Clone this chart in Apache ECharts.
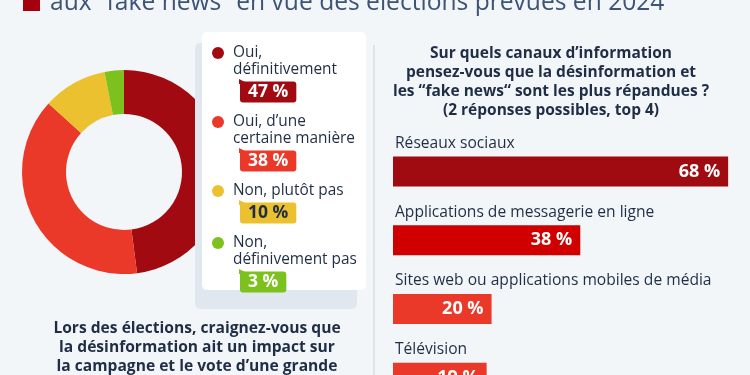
<!DOCTYPE html>
<html>
<head>
<meta charset="utf-8">
<script src="https://cdn.jsdelivr.net/npm/echarts@6/dist/echarts.min.js"></script>
<style>
  html, body { margin: 0; padding: 0; background: #f3f6f9; }
  #chart { width: 750px; height: 375px; }
</style>
</head>
<body>
<div id="chart"></div>
<script>
// donut: crainte d'un impact de la désinformation
const donutLines = [['Oui,', 'définitivement'], ['Oui, d’une', 'certaine manière'], ['Non, plutôt pas'], ['Non,', 'définivement pas']]
const donutValues = [47, 38, 10, 3]
const donutColors = ['#a20a12', '#ea3829', '#ebc12f', '#7cc11e']
const badgeTextColors = ['#fff', '#fff', '#1f2d45', '#fff']

// barres: canaux d'information
const channels = ['Réseaux sociaux', 'Applications de messagerie en ligne', 'Sites web ou applications mobiles de média', 'Télévision']
const channelValues = [68, 38, 20, 19]
const barColors = ['#a00b12', '#d00000', '#ea3829', '#ea3829']

const FONT = 'Open Sans'
const NAVY = '#1f2d45'

const chart = echarts.init(document.getElementById('chart'))

// legend box built from the donut arrays
const legendEls = []
legendEls.push({ type: 'rect', z: 100, shape: { x: 195, y: 43, width: 162, height: 266, r: 5 }, style: { fill: '#e0e7ee' } })
legendEls.push({ type: 'rect', z: 101, shape: { x: 202, y: 32, width: 164, height: 258, r: 5 }, style: { fill: '#fff' } })
let y = 53
donutLines.forEach((lines, i) => {
  legendEls.push({ type: 'circle', z: 102, shape: { cx: 218, cy: y, r: 6 }, style: { fill: donutColors[i] } })
  lines.forEach((t, j) => {
    legendEls.push({
      type: 'text', z: 102, x: 233, y: y + j * 17,
      style: { text: t, font: '15.4px "' + FONT + '"', fill: NAVY, verticalAlign: 'middle' }
    })
  })
  const last = y + (lines.length - 1) * 17
  const by = last + 22
  legendEls.push({
    type: 'polygon', z: 102,
    shape: { points: [[239, by - 13], [239, by - 8], [249, by - 8]] },
    style: { fill: donutColors[i] }
  })
  legendEls.push({
    type: 'text', z: 103, x: 240, y: by,
    style: {
      text: donutValues[i] + ' %', font: 'bold 17.5px "' + FONT + '"', fill: badgeTextColors[i],
      verticalAlign: 'middle', backgroundColor: donutColors[i], padding: [0, 8, 0, 8],
      lineHeight: 21, borderRadius: 3
    }
  })
  y = last + 52
})

chart.setOption({
  backgroundColor: '#f3f6f9',
  animation: false,
  grid: { left: 393, top: 137, width: 345, height: 275, outerBoundsMode: 'none', containLabel: false },
  xAxis: { type: 'value', min: 0, max: 70, show: false },
  yAxis: {
    type: 'category',
    inverse: true,
    data: channels,
    axisLine: { show: false },
    axisTick: { show: false },
    axisLabel: {
      inside: true,
      interval: 0,
      margin: 2,
      verticalAlign: 'bottom',
      lineHeight: 20,
      padding: [0, 0, 18, 0],
      fontFamily: FONT,
      fontSize: 15.6,
      color: NAVY
    }
  },
  series: [
    {
      type: 'pie',
      silent: true,
      center: [124, 172],
      radius: [58, 102],
      startAngle: 90,
      label: { show: false },
      labelLine: { show: false },
      data: donutValues.map((v, i) => ({ value: v, name: donutLines[i].join(' '), itemStyle: { color: donutColors[i] } }))
    },
    {
      type: 'bar',
      silent: true,
      barWidth: 30,
      data: channelValues.map((v, i) => ({ value: v, itemStyle: { color: barColors[i] } })),
      label: {
        show: true,
        position: 'insideRight',
        distance: 8,
        formatter: '{c} %',
        color: '#fff',
        fontFamily: FONT,
        fontWeight: 'bold',
        fontSize: 18
      }
    }
  ],
  graphic: [
    { type: 'rect', shape: { x: 23, y: -6, width: 17, height: 17 }, style: { fill: '#a50010' } },
    {
      type: 'text', x: 50, y: 3,
      style: { text: 'aux “fake news” en vue des élections prévues en 2024', font: '24.6px "' + FONT + '"', fill: '#3d5475', verticalAlign: 'middle' }
    },
    { type: 'line', shape: { x1: 374, y1: 45, x2: 374, y2: 375 }, style: { stroke: '#dde4eb', lineWidth: 2 } },
    {
      type: 'text', x: 551, y: 44,
      style: {
        text: 'Sur quels canaux d’information\npensez-vous que la désinformation et\nles “fake news“ sont les plus répandues ?\n(2 réponses possibles, top 4)',
        font: 'bold 15.5px "' + FONT + '"', fill: NAVY, align: 'center', verticalAlign: 'top', lineHeight: 19
      }
    },
    {
      type: 'text', x: 197, y: 319,
      style: {
        text: 'Lors des élections, craignez-vous que\nla désinformation ait un impact sur\nla campagne et le vote d’une grande',
        font: 'bold 15.6px "' + FONT + '"', fill: NAVY, align: 'center', verticalAlign: 'top', lineHeight: 19
      }
    }
  ].concat(legendEls)
})
</script>
</body>
</html>
